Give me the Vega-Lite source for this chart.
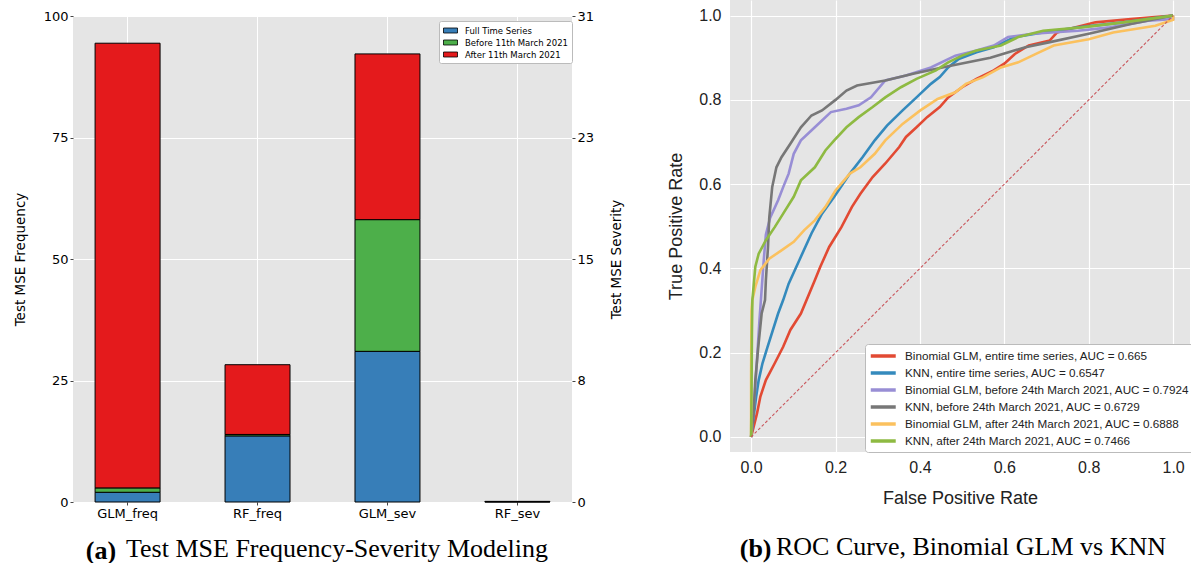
{
  "$schema": "https://vega.github.io/schema/vega-lite/v6.json",
  "background": "white",
  "padding": {"left": 13, "top": 0, "right": 0, "bottom": 0},
  "config": {
    "view": {"fill": "#E5E5E5", "stroke": null},
    "concat": {"spacing": 43}
  },
  "resolve": {"scale": {"color": "independent"}, "legend": {"color": "independent"}},
  "datasets": {
    "bars": [
      {"model": "GLM_freq", "period": "Full Time Series", "mse": 2.0, "k": 1},
      {"model": "GLM_freq", "period": "Before 11th March 2021", "mse": 0.9, "k": 2},
      {"model": "GLM_freq", "period": "After 11th March 2021", "mse": 91.5, "k": 3},
      {"model": "RF_freq", "period": "Full Time Series", "mse": 13.6, "k": 1},
      {"model": "RF_freq", "period": "Before 11th March 2021", "mse": 0.3, "k": 2},
      {"model": "RF_freq", "period": "After 11th March 2021", "mse": 14.35, "k": 3},
      {"model": "GLM_sev", "period": "Full Time Series", "mse": 31.0, "k": 1},
      {"model": "GLM_sev", "period": "Before 11th March 2021", "mse": 27.1, "k": 2},
      {"model": "GLM_sev", "period": "After 11th March 2021", "mse": 34.1, "k": 3},
      {"model": "RF_sev", "period": "Full Time Series", "mse": 0.05, "k": 1},
      {"model": "RF_sev", "period": "Before 11th March 2021", "mse": 0.03, "k": 2},
      {"model": "RF_sev", "period": "After 11th March 2021", "mse": 0.05, "k": 3}
    ],
    "diag": [{"fpr": 0, "tpr": 0}, {"fpr": 1, "tpr": 1}],
    "roc": [
      {"s": "Binomial GLM, entire time series, AUC = 0.665", "fpr": 0, "tpr": 0},
      {"s": "Binomial GLM, entire time series, AUC = 0.665", "fpr": 0.006, "tpr": 0.024},
      {"s": "Binomial GLM, entire time series, AUC = 0.665", "fpr": 0.014, "tpr": 0.056},
      {"s": "Binomial GLM, entire time series, AUC = 0.665", "fpr": 0.022, "tpr": 0.096},
      {"s": "Binomial GLM, entire time series, AUC = 0.665", "fpr": 0.035, "tpr": 0.135},
      {"s": "Binomial GLM, entire time series, AUC = 0.665", "fpr": 0.056, "tpr": 0.175},
      {"s": "Binomial GLM, entire time series, AUC = 0.665", "fpr": 0.076, "tpr": 0.214},
      {"s": "Binomial GLM, entire time series, AUC = 0.665", "fpr": 0.093, "tpr": 0.254},
      {"s": "Binomial GLM, entire time series, AUC = 0.665", "fpr": 0.118, "tpr": 0.293},
      {"s": "Binomial GLM, entire time series, AUC = 0.665", "fpr": 0.151, "tpr": 0.372},
      {"s": "Binomial GLM, entire time series, AUC = 0.665", "fpr": 0.164, "tpr": 0.404},
      {"s": "Binomial GLM, entire time series, AUC = 0.665", "fpr": 0.185, "tpr": 0.451},
      {"s": "Binomial GLM, entire time series, AUC = 0.665", "fpr": 0.214, "tpr": 0.498},
      {"s": "Binomial GLM, entire time series, AUC = 0.665", "fpr": 0.239, "tpr": 0.546},
      {"s": "Binomial GLM, entire time series, AUC = 0.665", "fpr": 0.259, "tpr": 0.577},
      {"s": "Binomial GLM, entire time series, AUC = 0.665", "fpr": 0.288, "tpr": 0.617},
      {"s": "Binomial GLM, entire time series, AUC = 0.665", "fpr": 0.318, "tpr": 0.649},
      {"s": "Binomial GLM, entire time series, AUC = 0.665", "fpr": 0.351, "tpr": 0.688},
      {"s": "Binomial GLM, entire time series, AUC = 0.665", "fpr": 0.367, "tpr": 0.712},
      {"s": "Binomial GLM, entire time series, AUC = 0.665", "fpr": 0.392, "tpr": 0.735},
      {"s": "Binomial GLM, entire time series, AUC = 0.665", "fpr": 0.417, "tpr": 0.759},
      {"s": "Binomial GLM, entire time series, AUC = 0.665", "fpr": 0.447, "tpr": 0.783},
      {"s": "Binomial GLM, entire time series, AUC = 0.665", "fpr": 0.467, "tpr": 0.806},
      {"s": "Binomial GLM, entire time series, AUC = 0.665", "fpr": 0.5, "tpr": 0.83},
      {"s": "Binomial GLM, entire time series, AUC = 0.665", "fpr": 0.534, "tpr": 0.85},
      {"s": "Binomial GLM, entire time series, AUC = 0.665", "fpr": 0.575, "tpr": 0.87},
      {"s": "Binomial GLM, entire time series, AUC = 0.665", "fpr": 0.6, "tpr": 0.886},
      {"s": "Binomial GLM, entire time series, AUC = 0.665", "fpr": 0.625, "tpr": 0.909},
      {"s": "Binomial GLM, entire time series, AUC = 0.665", "fpr": 0.658, "tpr": 0.929},
      {"s": "Binomial GLM, entire time series, AUC = 0.665", "fpr": 0.708, "tpr": 0.941},
      {"s": "Binomial GLM, entire time series, AUC = 0.665", "fpr": 0.725, "tpr": 0.96},
      {"s": "Binomial GLM, entire time series, AUC = 0.665", "fpr": 0.767, "tpr": 0.972},
      {"s": "Binomial GLM, entire time series, AUC = 0.665", "fpr": 0.816, "tpr": 0.984},
      {"s": "Binomial GLM, entire time series, AUC = 0.665", "fpr": 0.9, "tpr": 0.992},
      {"s": "Binomial GLM, entire time series, AUC = 0.665", "fpr": 1.0, "tpr": 1.0},

      {"s": "KNN, entire time series, AUC = 0.6547", "fpr": 0, "tpr": 0},
      {"s": "KNN, entire time series, AUC = 0.6547", "fpr": 0.007, "tpr": 0.056},
      {"s": "KNN, entire time series, AUC = 0.6547", "fpr": 0.012, "tpr": 0.096},
      {"s": "KNN, entire time series, AUC = 0.6547", "fpr": 0.018, "tpr": 0.135},
      {"s": "KNN, entire time series, AUC = 0.6547", "fpr": 0.027, "tpr": 0.175},
      {"s": "KNN, entire time series, AUC = 0.6547", "fpr": 0.039, "tpr": 0.214},
      {"s": "KNN, entire time series, AUC = 0.6547", "fpr": 0.064, "tpr": 0.293},
      {"s": "KNN, entire time series, AUC = 0.6547", "fpr": 0.076, "tpr": 0.325},
      {"s": "KNN, entire time series, AUC = 0.6547", "fpr": 0.089, "tpr": 0.364},
      {"s": "KNN, entire time series, AUC = 0.6547", "fpr": 0.114, "tpr": 0.419},
      {"s": "KNN, entire time series, AUC = 0.6547", "fpr": 0.143, "tpr": 0.483},
      {"s": "KNN, entire time series, AUC = 0.6547", "fpr": 0.168, "tpr": 0.53},
      {"s": "KNN, entire time series, AUC = 0.6547", "fpr": 0.197, "tpr": 0.57},
      {"s": "KNN, entire time series, AUC = 0.6547", "fpr": 0.234, "tpr": 0.625},
      {"s": "KNN, entire time series, AUC = 0.6547", "fpr": 0.264, "tpr": 0.664},
      {"s": "KNN, entire time series, AUC = 0.6547", "fpr": 0.293, "tpr": 0.704},
      {"s": "KNN, entire time series, AUC = 0.6547", "fpr": 0.322, "tpr": 0.739},
      {"s": "KNN, entire time series, AUC = 0.6547", "fpr": 0.359, "tpr": 0.775},
      {"s": "KNN, entire time series, AUC = 0.6547", "fpr": 0.392, "tpr": 0.806},
      {"s": "KNN, entire time series, AUC = 0.6547", "fpr": 0.426, "tpr": 0.838},
      {"s": "KNN, entire time series, AUC = 0.6547", "fpr": 0.447, "tpr": 0.854},
      {"s": "KNN, entire time series, AUC = 0.6547", "fpr": 0.467, "tpr": 0.877},
      {"s": "KNN, entire time series, AUC = 0.6547", "fpr": 0.492, "tpr": 0.897},
      {"s": "KNN, entire time series, AUC = 0.6547", "fpr": 0.534, "tpr": 0.913},
      {"s": "KNN, entire time series, AUC = 0.6547", "fpr": 0.575, "tpr": 0.925},
      {"s": "KNN, entire time series, AUC = 0.6547", "fpr": 0.625, "tpr": 0.949},
      {"s": "KNN, entire time series, AUC = 0.6547", "fpr": 0.692, "tpr": 0.96},
      {"s": "KNN, entire time series, AUC = 0.6547", "fpr": 0.775, "tpr": 0.972},
      {"s": "KNN, entire time series, AUC = 0.6547", "fpr": 0.883, "tpr": 0.984},
      {"s": "KNN, entire time series, AUC = 0.6547", "fpr": 1.0, "tpr": 1.0},

      {"s": "Binomial GLM, before 24th March 2021, AUC = 0.7924", "fpr": 0, "tpr": 0},
      {"s": "Binomial GLM, before 24th March 2021, AUC = 0.7924", "fpr": 0.005, "tpr": 0.05},
      {"s": "Binomial GLM, before 24th March 2021, AUC = 0.7924", "fpr": 0.01, "tpr": 0.12},
      {"s": "Binomial GLM, before 24th March 2021, AUC = 0.7924", "fpr": 0.015, "tpr": 0.2},
      {"s": "Binomial GLM, before 24th March 2021, AUC = 0.7924", "fpr": 0.02, "tpr": 0.28},
      {"s": "Binomial GLM, before 24th March 2021, AUC = 0.7924", "fpr": 0.025, "tpr": 0.35},
      {"s": "Binomial GLM, before 24th March 2021, AUC = 0.7924", "fpr": 0.03, "tpr": 0.42},
      {"s": "Binomial GLM, before 24th March 2021, AUC = 0.7924", "fpr": 0.035, "tpr": 0.48},
      {"s": "Binomial GLM, before 24th March 2021, AUC = 0.7924", "fpr": 0.045, "tpr": 0.52},
      {"s": "Binomial GLM, before 24th March 2021, AUC = 0.7924", "fpr": 0.064, "tpr": 0.562},
      {"s": "Binomial GLM, before 24th March 2021, AUC = 0.7924", "fpr": 0.076, "tpr": 0.593},
      {"s": "Binomial GLM, before 24th March 2021, AUC = 0.7924", "fpr": 0.089, "tpr": 0.625},
      {"s": "Binomial GLM, before 24th March 2021, AUC = 0.7924", "fpr": 0.101, "tpr": 0.672},
      {"s": "Binomial GLM, before 24th March 2021, AUC = 0.7924", "fpr": 0.118, "tpr": 0.704},
      {"s": "Binomial GLM, before 24th March 2021, AUC = 0.7924", "fpr": 0.151, "tpr": 0.735},
      {"s": "Binomial GLM, before 24th March 2021, AUC = 0.7924", "fpr": 0.189, "tpr": 0.771},
      {"s": "Binomial GLM, before 24th March 2021, AUC = 0.7924", "fpr": 0.226, "tpr": 0.779},
      {"s": "Binomial GLM, before 24th March 2021, AUC = 0.7924", "fpr": 0.255, "tpr": 0.787},
      {"s": "Binomial GLM, before 24th March 2021, AUC = 0.7924", "fpr": 0.284, "tpr": 0.806},
      {"s": "Binomial GLM, before 24th March 2021, AUC = 0.7924", "fpr": 0.318, "tpr": 0.846},
      {"s": "Binomial GLM, before 24th March 2021, AUC = 0.7924", "fpr": 0.367, "tpr": 0.858},
      {"s": "Binomial GLM, before 24th March 2021, AUC = 0.7924", "fpr": 0.426, "tpr": 0.877},
      {"s": "Binomial GLM, before 24th March 2021, AUC = 0.7924", "fpr": 0.484, "tpr": 0.905},
      {"s": "Binomial GLM, before 24th March 2021, AUC = 0.7924", "fpr": 0.534, "tpr": 0.917},
      {"s": "Binomial GLM, before 24th March 2021, AUC = 0.7924", "fpr": 0.575, "tpr": 0.929},
      {"s": "Binomial GLM, before 24th March 2021, AUC = 0.7924", "fpr": 0.609, "tpr": 0.949},
      {"s": "Binomial GLM, before 24th March 2021, AUC = 0.7924", "fpr": 0.667, "tpr": 0.957},
      {"s": "Binomial GLM, before 24th March 2021, AUC = 0.7924", "fpr": 0.775, "tpr": 0.964},
      {"s": "Binomial GLM, before 24th March 2021, AUC = 0.7924", "fpr": 0.85, "tpr": 0.972},
      {"s": "Binomial GLM, before 24th March 2021, AUC = 0.7924", "fpr": 0.941, "tpr": 0.988},
      {"s": "Binomial GLM, before 24th March 2021, AUC = 0.7924", "fpr": 1.0, "tpr": 0.992},
      {"s": "Binomial GLM, before 24th March 2021, AUC = 0.7924", "fpr": 1.0, "tpr": 1.0},

      {"s": "KNN, before 24th March 2021, AUC = 0.6729", "fpr": 0, "tpr": 0},
      {"s": "KNN, before 24th March 2021, AUC = 0.6729", "fpr": 0.006, "tpr": 0.056},
      {"s": "KNN, before 24th March 2021, AUC = 0.6729", "fpr": 0.01, "tpr": 0.135},
      {"s": "KNN, before 24th March 2021, AUC = 0.6729", "fpr": 0.017, "tpr": 0.214},
      {"s": "KNN, before 24th March 2021, AUC = 0.6729", "fpr": 0.025, "tpr": 0.293},
      {"s": "KNN, before 24th March 2021, AUC = 0.6729", "fpr": 0.033, "tpr": 0.325},
      {"s": "KNN, before 24th March 2021, AUC = 0.6729", "fpr": 0.035, "tpr": 0.372},
      {"s": "KNN, before 24th March 2021, AUC = 0.6729", "fpr": 0.04, "tpr": 0.45},
      {"s": "KNN, before 24th March 2021, AUC = 0.6729", "fpr": 0.043, "tpr": 0.52},
      {"s": "KNN, before 24th March 2021, AUC = 0.6729", "fpr": 0.05, "tpr": 0.593},
      {"s": "KNN, before 24th March 2021, AUC = 0.6729", "fpr": 0.06, "tpr": 0.64},
      {"s": "KNN, before 24th March 2021, AUC = 0.6729", "fpr": 0.072, "tpr": 0.664},
      {"s": "KNN, before 24th March 2021, AUC = 0.6729", "fpr": 0.093, "tpr": 0.696},
      {"s": "KNN, before 24th March 2021, AUC = 0.6729", "fpr": 0.118, "tpr": 0.735},
      {"s": "KNN, before 24th March 2021, AUC = 0.6729", "fpr": 0.143, "tpr": 0.763},
      {"s": "KNN, before 24th March 2021, AUC = 0.6729", "fpr": 0.168, "tpr": 0.775},
      {"s": "KNN, before 24th March 2021, AUC = 0.6729", "fpr": 0.2, "tpr": 0.8},
      {"s": "KNN, before 24th March 2021, AUC = 0.6729", "fpr": 0.226, "tpr": 0.822},
      {"s": "KNN, before 24th March 2021, AUC = 0.6729", "fpr": 0.251, "tpr": 0.834},
      {"s": "KNN, before 24th March 2021, AUC = 0.6729", "fpr": 0.318, "tpr": 0.846},
      {"s": "KNN, before 24th March 2021, AUC = 0.6729", "fpr": 0.384, "tpr": 0.862},
      {"s": "KNN, before 24th March 2021, AUC = 0.6729", "fpr": 0.467, "tpr": 0.88},
      {"s": "KNN, before 24th March 2021, AUC = 0.6729", "fpr": 0.567, "tpr": 0.9},
      {"s": "KNN, before 24th March 2021, AUC = 0.6729", "fpr": 0.65, "tpr": 0.925},
      {"s": "KNN, before 24th March 2021, AUC = 0.6729", "fpr": 0.708, "tpr": 0.937},
      {"s": "KNN, before 24th March 2021, AUC = 0.6729", "fpr": 0.8, "tpr": 0.957},
      {"s": "KNN, before 24th March 2021, AUC = 0.6729", "fpr": 0.9, "tpr": 0.98},
      {"s": "KNN, before 24th March 2021, AUC = 0.6729", "fpr": 1.0, "tpr": 1.0},

      {"s": "Binomial GLM, after 24th March 2021, AUC = 0.6888", "fpr": 0, "tpr": 0},
      {"s": "Binomial GLM, after 24th March 2021, AUC = 0.6888", "fpr": 0, "tpr": 0.15},
      {"s": "Binomial GLM, after 24th March 2021, AUC = 0.6888", "fpr": 0.001, "tpr": 0.3},
      {"s": "Binomial GLM, after 24th March 2021, AUC = 0.6888", "fpr": 0.003, "tpr": 0.325},
      {"s": "Binomial GLM, after 24th March 2021, AUC = 0.6888", "fpr": 0.01, "tpr": 0.356},
      {"s": "Binomial GLM, after 24th March 2021, AUC = 0.6888", "fpr": 0.022, "tpr": 0.396},
      {"s": "Binomial GLM, after 24th March 2021, AUC = 0.6888", "fpr": 0.043, "tpr": 0.423},
      {"s": "Binomial GLM, after 24th March 2021, AUC = 0.6888", "fpr": 0.072, "tpr": 0.443},
      {"s": "Binomial GLM, after 24th March 2021, AUC = 0.6888", "fpr": 0.101, "tpr": 0.463},
      {"s": "Binomial GLM, after 24th March 2021, AUC = 0.6888", "fpr": 0.126, "tpr": 0.491},
      {"s": "Binomial GLM, after 24th March 2021, AUC = 0.6888", "fpr": 0.151, "tpr": 0.514},
      {"s": "Binomial GLM, after 24th March 2021, AUC = 0.6888", "fpr": 0.176, "tpr": 0.546},
      {"s": "Binomial GLM, after 24th March 2021, AUC = 0.6888", "fpr": 0.2, "tpr": 0.585},
      {"s": "Binomial GLM, after 24th March 2021, AUC = 0.6888", "fpr": 0.234, "tpr": 0.625},
      {"s": "Binomial GLM, after 24th March 2021, AUC = 0.6888", "fpr": 0.259, "tpr": 0.64},
      {"s": "Binomial GLM, after 24th March 2021, AUC = 0.6888", "fpr": 0.293, "tpr": 0.672},
      {"s": "Binomial GLM, after 24th March 2021, AUC = 0.6888", "fpr": 0.318, "tpr": 0.704},
      {"s": "Binomial GLM, after 24th March 2021, AUC = 0.6888", "fpr": 0.359, "tpr": 0.743},
      {"s": "Binomial GLM, after 24th March 2021, AUC = 0.6888", "fpr": 0.401, "tpr": 0.775},
      {"s": "Binomial GLM, after 24th March 2021, AUC = 0.6888", "fpr": 0.442, "tpr": 0.802},
      {"s": "Binomial GLM, after 24th March 2021, AUC = 0.6888", "fpr": 0.484, "tpr": 0.818},
      {"s": "Binomial GLM, after 24th March 2021, AUC = 0.6888", "fpr": 0.509, "tpr": 0.838},
      {"s": "Binomial GLM, after 24th March 2021, AUC = 0.6888", "fpr": 0.55, "tpr": 0.854},
      {"s": "Binomial GLM, after 24th March 2021, AUC = 0.6888", "fpr": 0.592, "tpr": 0.877},
      {"s": "Binomial GLM, after 24th March 2021, AUC = 0.6888", "fpr": 0.633, "tpr": 0.889},
      {"s": "Binomial GLM, after 24th March 2021, AUC = 0.6888", "fpr": 0.675, "tpr": 0.909},
      {"s": "Binomial GLM, after 24th March 2021, AUC = 0.6888", "fpr": 0.717, "tpr": 0.929},
      {"s": "Binomial GLM, after 24th March 2021, AUC = 0.6888", "fpr": 0.8, "tpr": 0.944},
      {"s": "Binomial GLM, after 24th March 2021, AUC = 0.6888", "fpr": 0.858, "tpr": 0.96},
      {"s": "Binomial GLM, after 24th March 2021, AUC = 0.6888", "fpr": 0.958, "tpr": 0.976},
      {"s": "Binomial GLM, after 24th March 2021, AUC = 0.6888", "fpr": 1.0, "tpr": 0.99},
      {"s": "Binomial GLM, after 24th March 2021, AUC = 0.6888", "fpr": 1.0, "tpr": 1.0},

      {"s": "KNN, after 24th March 2021, AUC = 0.7466", "fpr": 0, "tpr": 0},
      {"s": "KNN, after 24th March 2021, AUC = 0.7466", "fpr": 0.001, "tpr": 0.1},
      {"s": "KNN, after 24th March 2021, AUC = 0.7466", "fpr": 0.002, "tpr": 0.25},
      {"s": "KNN, after 24th March 2021, AUC = 0.7466", "fpr": 0.003, "tpr": 0.325},
      {"s": "KNN, after 24th March 2021, AUC = 0.7466", "fpr": 0.01, "tpr": 0.404},
      {"s": "KNN, after 24th March 2021, AUC = 0.7466", "fpr": 0.018, "tpr": 0.435},
      {"s": "KNN, after 24th March 2021, AUC = 0.7466", "fpr": 0.035, "tpr": 0.467},
      {"s": "KNN, after 24th March 2021, AUC = 0.7466", "fpr": 0.056, "tpr": 0.498},
      {"s": "KNN, after 24th March 2021, AUC = 0.7466", "fpr": 0.076, "tpr": 0.53},
      {"s": "KNN, after 24th March 2021, AUC = 0.7466", "fpr": 0.101, "tpr": 0.57},
      {"s": "KNN, after 24th March 2021, AUC = 0.7466", "fpr": 0.118, "tpr": 0.609},
      {"s": "KNN, after 24th March 2021, AUC = 0.7466", "fpr": 0.151, "tpr": 0.64},
      {"s": "KNN, after 24th March 2021, AUC = 0.7466", "fpr": 0.176, "tpr": 0.68},
      {"s": "KNN, after 24th March 2021, AUC = 0.7466", "fpr": 0.197, "tpr": 0.704},
      {"s": "KNN, after 24th March 2021, AUC = 0.7466", "fpr": 0.226, "tpr": 0.735},
      {"s": "KNN, after 24th March 2021, AUC = 0.7466", "fpr": 0.255, "tpr": 0.759},
      {"s": "KNN, after 24th March 2021, AUC = 0.7466", "fpr": 0.288, "tpr": 0.783},
      {"s": "KNN, after 24th March 2021, AUC = 0.7466", "fpr": 0.318, "tpr": 0.806},
      {"s": "KNN, after 24th March 2021, AUC = 0.7466", "fpr": 0.355, "tpr": 0.83},
      {"s": "KNN, after 24th March 2021, AUC = 0.7466", "fpr": 0.392, "tpr": 0.85},
      {"s": "KNN, after 24th March 2021, AUC = 0.7466", "fpr": 0.438, "tpr": 0.87},
      {"s": "KNN, after 24th March 2021, AUC = 0.7466", "fpr": 0.467, "tpr": 0.889},
      {"s": "KNN, after 24th March 2021, AUC = 0.7466", "fpr": 0.5, "tpr": 0.905},
      {"s": "KNN, after 24th March 2021, AUC = 0.7466", "fpr": 0.534, "tpr": 0.917},
      {"s": "KNN, after 24th March 2021, AUC = 0.7466", "fpr": 0.592, "tpr": 0.929},
      {"s": "KNN, after 24th March 2021, AUC = 0.7466", "fpr": 0.633, "tpr": 0.949},
      {"s": "KNN, after 24th March 2021, AUC = 0.7466", "fpr": 0.692, "tpr": 0.964},
      {"s": "KNN, after 24th March 2021, AUC = 0.7466", "fpr": 0.783, "tpr": 0.972},
      {"s": "KNN, after 24th March 2021, AUC = 0.7466", "fpr": 0.883, "tpr": 0.984},
      {"s": "KNN, after 24th March 2021, AUC = 0.7466", "fpr": 1.0, "tpr": 1.0}
    ]
  },
  "title": {
    "text": "(b)",
    "orient": "bottom",
    "anchor": "end",
    "font": "Liberation Serif",
    "fontSize": 26,
    "fontWeight": "bold",
    "color": "black",
    "baseline": "alphabetic",
    "offset": 0,
    "dx": -423,
    "dy": -6
  },
  "hconcat": [
    {
      "spacing": 9,
      "vconcat": [
        {
          "width": 1,
          "height": 1,
          "data": {"values": []},
          "mark": {"type": "point", "opacity": 0},
          "encoding": {},
          "view": {"fill": null, "stroke": null}
        },
        {
          "width": 499,
          "height": 486,
          "data": {"name": "bars"},
          "title": {
            "text": "Test MSE Frequency-Severity Modeling",
            "orient": "bottom",
            "anchor": "start",
            "frame": "group",
            "font": "Liberation Serif",
            "fontSize": 26,
            "fontWeight": "normal",
            "color": "black",
            "baseline": "alphabetic",
            "offset": 0,
            "dx": 53,
            "dy": -6
          },
          "layer": [
            {
              "mark": {"type": "bar", "stroke": "black", "strokeWidth": 1},
              "encoding": {
                "x": {
                  "field": "model",
                  "type": "nominal",
                  "sort": ["GLM_freq", "RF_freq", "GLM_sev", "RF_sev"],
                  "scale": {"paddingInner": 0.5, "paddingOuter": 0.17},
                  "axis": {
                    "title": "(a)",
                    "titleX": 27.5,
                    "titleY": 56,
                    "titleAlign": "center",
                    "titleBaseline": "alphabetic",
                    "titleFont": "Liberation Serif",
                    "titleFontSize": 26,
                    "titleFontWeight": "bold",
                    "titleColor": "black",
                    "labelAngle": 0,
                    "labelFont": "DejaVu Sans",
                    "labelFontSize": 13,
                    "labelColor": "black",
                    "labelPadding": 2,
                    "bandPosition": 0.5,
                    "grid": true,
                    "gridColor": "white",
                    "gridWidth": 1,
                    "domain": false,
                    "tickSize": 3,
                    "tickColor": "#444"
                  }
                },
                "y": {
                  "field": "mse",
                  "type": "quantitative",
                  "stack": "zero",
                  "scale": {"domain": [0, 100], "nice": false},
                  "axis": {
                    "values": [0, 25, 50, 75, 100],
                    "title": "Test MSE Frequency",
                    "titleFont": "DejaVu Sans",
                    "titleFontSize": 13.5,
                    "titleFontWeight": "normal",
                    "titleColor": "black",
                    "titlePadding": 16,
                    "labelFont": "DejaVu Sans",
                    "labelFontSize": 13,
                    "labelColor": "black",
                    "labelPadding": 2,
                    "grid": true,
                    "gridColor": "white",
                    "gridWidth": 1,
                    "domain": false,
                    "tickSize": 3,
                    "tickColor": "#444"
                  }
                },
                "color": {
                  "field": "period",
                  "type": "nominal",
                  "scale": {
                    "domain": ["Full Time Series", "Before 11th March 2021", "After 11th March 2021"],
                    "range": ["#377eb8", "#4daf4a", "#e41a1c"]
                  },
                  "legend": {
                    "title": null,
                    "orient": "none",
                    "legendX": 366,
                    "legendY": 21,
                    "fillColor": "white",
                    "strokeColor": "#bbbbbb",
                    "padding": 4,
                    "cornerRadius": 2,
                    "symbolType": "M-1,-0.5L1.8,-0.5L1.8,0.5L-1,0.5Z",
                    "symbolSize": 100,
                    "symbolStrokeColor": "black",
                    "symbolStrokeWidth": 0.8,
                    "symbolOpacity": 1,
                    "labelFont": "DejaVu Sans",
                    "labelFontSize": 8.5,
                    "labelColor": "black",
                    "labelOffset": 11,
                    "rowPadding": 2
                  }
                },
                "order": {"field": "k", "type": "quantitative"}
              }
            },
            {
              "mark": {"type": "rule", "opacity": 0},
              "encoding": {
                "y": {
                  "datum": 0,
                  "type": "quantitative",
                  "scale": {"domain": [0, 31], "nice": false},
                  "axis": {
                    "orient": "right",
                    "values": [0, 7.75, 15.5, 23.25, 31],
                    "labelExpr": "datum.value == 7.75 ? '8' : datum.value == 15.5 ? '15' : datum.value == 23.25 ? '23' : datum.label",
                    "labelOverlap": false,
                    "title": "Test MSE Severity",
                    "titleAngle": 270,
                    "titleFont": "DejaVu Sans",
                    "titleFontSize": 13.5,
                    "titleFontWeight": "normal",
                    "titleColor": "black",
                    "titlePadding": 30,
                    "labelFont": "DejaVu Sans",
                    "labelFontSize": 13,
                    "labelColor": "black",
                    "labelPadding": 2,
                    "grid": false,
                    "domain": false,
                    "tickSize": 3,
                    "tickColor": "#444"
                  }
                }
              }
            }
          ],
          "resolve": {"scale": {"y": "independent"}}
        }
      ]
    },
    {
      "width": 460,
      "height": 452,
      "title": {
        "text": "ROC Curve, Binomial GLM vs KNN",
        "orient": "bottom",
        "anchor": "start",
        "frame": "group",
        "font": "Liberation Serif",
        "fontSize": 26,
        "fontWeight": "normal",
        "color": "black",
        "baseline": "alphabetic",
        "offset": 0,
        "dx": 46,
        "dy": 48
      },
      "layer": [
        {
          "data": {"name": "roc"},
          "mark": {"type": "line", "strokeWidth": 2.6},
          "encoding": {
            "x": {
              "field": "fpr",
              "type": "quantitative",
              "scale": {"domain": [-0.05, 1.04], "nice": false, "zero": false},
              "axis": {
                "values": [0, 0.2, 0.4, 0.6, 0.8, 1.0],
                "format": ".1f",
                "title": "False Positive Rate",
                "titleFont": "Liberation Sans",
                "titleFontSize": 18,
                "titleFontWeight": "normal",
                "titleColor": "#222",
                "titlePadding": 14,
                "labelFont": "Liberation Sans",
                "labelFontSize": 16,
                "labelColor": "#222",
                "labelPadding": 7,
                "tickSize": 0,
                "domain": false,
                "grid": true,
                "gridColor": "white",
                "gridWidth": 1.2
              }
            },
            "y": {
              "field": "tpr",
              "type": "quantitative",
              "scale": {"domain": [-0.0356, 1.037], "nice": false, "zero": false},
              "axis": {
                "values": [0, 0.2, 0.4, 0.6, 0.8, 1.0],
                "format": ".1f",
                "title": "True Positive Rate",
                "titleFont": "Liberation Sans",
                "titleFontSize": 18,
                "titleFontWeight": "normal",
                "titleColor": "#222",
                "titlePadding": 13,
                "labelFont": "Liberation Sans",
                "labelFontSize": 16,
                "labelColor": "#222",
                "labelPadding": 9,
                "tickSize": 0,
                "domain": false,
                "grid": true,
                "gridColor": "white",
                "gridWidth": 1.2
              }
            },
            "color": {
              "field": "s",
              "type": "nominal",
              "scale": {
                "domain": [
                  "Binomial GLM, entire time series, AUC = 0.665",
                  "KNN, entire time series, AUC = 0.6547",
                  "Binomial GLM, before 24th March 2021, AUC = 0.7924",
                  "KNN, before 24th March 2021, AUC = 0.6729",
                  "Binomial GLM, after 24th March 2021, AUC = 0.6888",
                  "KNN, after 24th March 2021, AUC = 0.7466"
                ],
                "range": ["#E24A33", "#348ABD", "#988ED5", "#777777", "#FBC15E", "#8EBA42"]
              },
              "legend": {
                "title": null,
                "orient": "none",
                "legendX": 135,
                "legendY": 344,
                "fillColor": "white",
                "strokeColor": "#bbbbbb",
                "cornerRadius": 3,
                "padding": 4,
                "symbolType": "M-1,0L3,0",
                "symbolSize": 156,
                "symbolStrokeWidth": 3.5,
                "labelFont": "Liberation Sans",
                "labelFontSize": 11.7,
                "labelColor": "#222",
                "labelOffset": 20,
                "labelLimit": 400,
                "rowPadding": 2
              }
            },
            "order": {"field": "tpr", "type": "quantitative"}
          }
        },
        {
          "data": {"name": "diag"},
          "mark": {"type": "line", "color": "#c9565c", "strokeWidth": 1.1, "strokeDash": [3, 2]},
          "encoding": {
            "x": {"field": "fpr", "type": "quantitative"},
            "y": {"field": "tpr", "type": "quantitative"}
          }
        }
      ]
    }
  ]
}
